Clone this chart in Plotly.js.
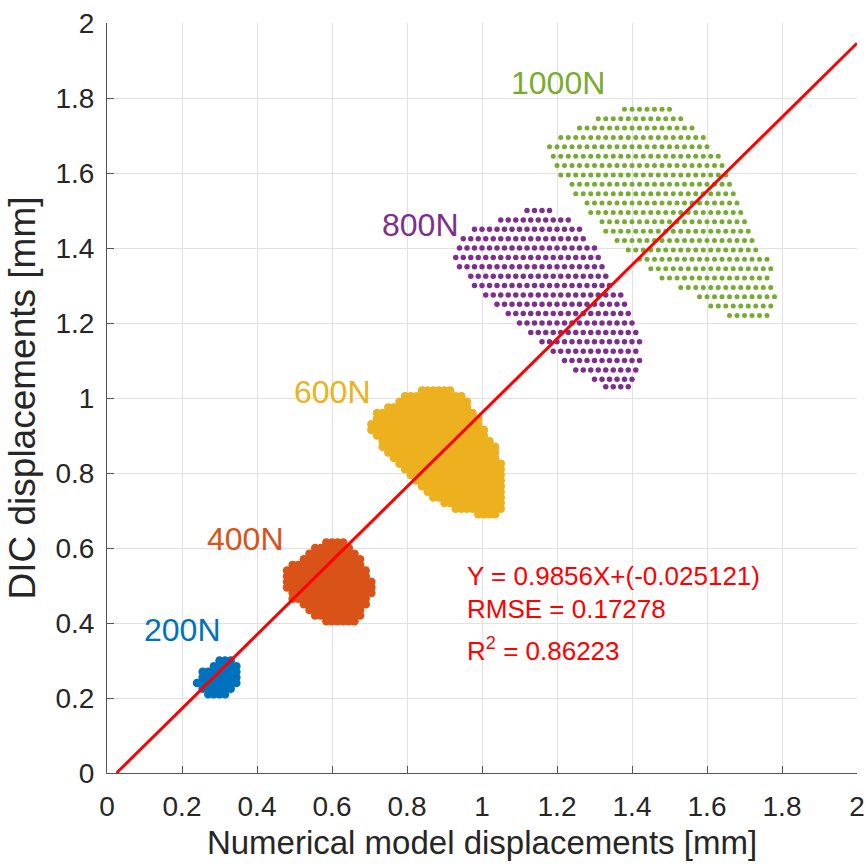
<!DOCTYPE html>
<html>
<head>
<meta charset="utf-8">
<script src="https://cdn.plot.ly/plotly-3.0.1.min.js"></script>
<style>
  html, body { margin: 0; padding: 0; background: #ffffff; }
  #chart { width: 866px; height: 867px; }
</style>
</head>
<body>
<div id="chart"></div>
<script>
// ---------------- data ----------------
// Each cloud: row levels (DIC displacement, mm) and, per row, the
// numerical-model displacements (mm) of the points on that row.

const blueRowY = [0.300, 0.285, 0.270, 0.255, 0.240, 0.225, 0.210];
const blueRowX = [
  [0.300, 0.315, 0.330],
  [0.285, 0.300, 0.315, 0.330, 0.345],
  [0.255, 0.270, 0.285, 0.300, 0.315, 0.330, 0.345],
  [0.255, 0.270, 0.285, 0.300, 0.315, 0.330, 0.345],
  [0.240, 0.255, 0.270, 0.285, 0.300, 0.315, 0.330, 0.345],
  [0.255, 0.270, 0.285, 0.300, 0.315, 0.330],
  [0.270, 0.285, 0.300, 0.315]
];

const orangeRowY = [0.615, 0.600, 0.585, 0.570, 0.555, 0.540, 0.525, 0.510, 0.495, 0.480, 0.465, 0.450, 0.435, 0.420, 0.405];
const orangeRowX = [
  [0.585, 0.600, 0.615, 0.630],
  [0.555, 0.570, 0.585, 0.600, 0.615, 0.630, 0.645],
  [0.540, 0.555, 0.570, 0.585, 0.600, 0.615, 0.630, 0.645, 0.660],
  [0.525, 0.540, 0.555, 0.570, 0.585, 0.600, 0.615, 0.630, 0.645, 0.660, 0.675],
  [0.495, 0.510, 0.525, 0.540, 0.555, 0.570, 0.585, 0.600, 0.615, 0.630, 0.645, 0.660, 0.675],
  [0.480, 0.495, 0.510, 0.525, 0.540, 0.555, 0.570, 0.585, 0.600, 0.615, 0.630, 0.645, 0.660, 0.675, 0.690],
  [0.480, 0.495, 0.510, 0.525, 0.540, 0.555, 0.570, 0.585, 0.600, 0.615, 0.630, 0.645, 0.660, 0.675, 0.690],
  [0.480, 0.495, 0.510, 0.525, 0.540, 0.555, 0.570, 0.585, 0.600, 0.615, 0.630, 0.645, 0.660, 0.675, 0.690, 0.705],
  [0.480, 0.495, 0.510, 0.525, 0.540, 0.555, 0.570, 0.585, 0.600, 0.615, 0.630, 0.645, 0.660, 0.675, 0.690, 0.705],
  [0.495, 0.510, 0.525, 0.540, 0.555, 0.570, 0.585, 0.600, 0.615, 0.630, 0.645, 0.660, 0.675, 0.690, 0.705],
  [0.495, 0.510, 0.525, 0.540, 0.555, 0.570, 0.585, 0.600, 0.615, 0.630, 0.645, 0.660, 0.675, 0.690],
  [0.525, 0.540, 0.555, 0.570, 0.585, 0.600, 0.615, 0.630, 0.645, 0.660, 0.675, 0.690],
  [0.540, 0.555, 0.570, 0.585, 0.600, 0.615, 0.630, 0.645, 0.660, 0.675],
  [0.555, 0.570, 0.585, 0.600, 0.615, 0.630, 0.645, 0.660, 0.675],
  [0.585, 0.600, 0.615, 0.630, 0.645, 0.660]
];

const yellowRowY = [1.020, 1.005, 0.990, 0.975, 0.960, 0.945, 0.930, 0.915, 0.900, 0.885, 0.870, 0.855, 0.840, 0.825, 0.810, 0.795, 0.780, 0.765, 0.750, 0.735, 0.720, 0.705, 0.690];
const yellowRowX = [
  [0.840, 0.855, 0.870, 0.885, 0.900, 0.915],
  [0.795, 0.810, 0.825, 0.840, 0.855, 0.870, 0.885, 0.900, 0.915, 0.930, 0.945],
  [0.780, 0.795, 0.810, 0.825, 0.840, 0.855, 0.870, 0.885, 0.900, 0.915, 0.930, 0.945, 0.960],
  [0.750, 0.765, 0.780, 0.795, 0.810, 0.825, 0.840, 0.855, 0.870, 0.885, 0.900, 0.915, 0.930, 0.945, 0.960],
  [0.720, 0.735, 0.750, 0.765, 0.780, 0.795, 0.810, 0.825, 0.840, 0.855, 0.870, 0.885, 0.900, 0.915, 0.930, 0.945, 0.960, 0.975],
  [0.720, 0.735, 0.750, 0.765, 0.780, 0.795, 0.810, 0.825, 0.840, 0.855, 0.870, 0.885, 0.900, 0.915, 0.930, 0.945, 0.960, 0.975, 0.990],
  [0.705, 0.720, 0.735, 0.750, 0.765, 0.780, 0.795, 0.810, 0.825, 0.840, 0.855, 0.870, 0.885, 0.900, 0.915, 0.930, 0.945, 0.960, 0.975, 0.990],
  [0.705, 0.720, 0.735, 0.750, 0.765, 0.780, 0.795, 0.810, 0.825, 0.840, 0.855, 0.870, 0.885, 0.900, 0.915, 0.930, 0.945, 0.960, 0.975, 0.990, 1.005],
  [0.720, 0.735, 0.750, 0.765, 0.780, 0.795, 0.810, 0.825, 0.840, 0.855, 0.870, 0.885, 0.900, 0.915, 0.930, 0.945, 0.960, 0.975, 0.990, 1.005],
  [0.735, 0.750, 0.765, 0.780, 0.795, 0.810, 0.825, 0.840, 0.855, 0.870, 0.885, 0.900, 0.915, 0.930, 0.945, 0.960, 0.975, 0.990, 1.005, 1.020],
  [0.735, 0.750, 0.765, 0.780, 0.795, 0.810, 0.825, 0.840, 0.855, 0.870, 0.885, 0.900, 0.915, 0.930, 0.945, 0.960, 0.975, 0.990, 1.005, 1.020, 1.035],
  [0.750, 0.765, 0.780, 0.795, 0.810, 0.825, 0.840, 0.855, 0.870, 0.885, 0.900, 0.915, 0.930, 0.945, 0.960, 0.975, 0.990, 1.005, 1.020, 1.035],
  [0.765, 0.780, 0.795, 0.810, 0.825, 0.840, 0.855, 0.870, 0.885, 0.900, 0.915, 0.930, 0.945, 0.960, 0.975, 0.990, 1.005, 1.020, 1.035],
  [0.780, 0.795, 0.810, 0.825, 0.840, 0.855, 0.870, 0.885, 0.900, 0.915, 0.930, 0.945, 0.960, 0.975, 0.990, 1.005, 1.020, 1.035, 1.050],
  [0.795, 0.810, 0.825, 0.840, 0.855, 0.870, 0.885, 0.900, 0.915, 0.930, 0.945, 0.960, 0.975, 0.990, 1.005, 1.020, 1.035, 1.050],
  [0.810, 0.825, 0.840, 0.855, 0.870, 0.885, 0.900, 0.915, 0.930, 0.945, 0.960, 0.975, 0.990, 1.005, 1.020, 1.035, 1.050],
  [0.825, 0.840, 0.855, 0.870, 0.885, 0.900, 0.915, 0.930, 0.945, 0.960, 0.975, 0.990, 1.005, 1.020, 1.035, 1.050],
  [0.840, 0.855, 0.870, 0.885, 0.900, 0.915, 0.930, 0.945, 0.960, 0.975, 0.990, 1.005, 1.020, 1.035, 1.050],
  [0.855, 0.870, 0.885, 0.900, 0.915, 0.930, 0.945, 0.960, 0.975, 0.990, 1.005, 1.020, 1.035, 1.050],
  [0.870, 0.885, 0.900, 0.915, 0.930, 0.945, 0.960, 0.975, 0.990, 1.005, 1.020, 1.035, 1.050],
  [0.900, 0.915, 0.930, 0.945, 0.960, 0.975, 0.990, 1.005, 1.020, 1.035, 1.050],
  [0.930, 0.945, 0.960, 0.975, 0.990, 1.005, 1.020, 1.035, 1.050],
  [0.990, 1.005, 1.020, 1.035]
];

const purpleRowY = [1.50, 1.475, 1.45, 1.425, 1.40, 1.375, 1.35, 1.325, 1.30, 1.275, 1.25, 1.225, 1.20, 1.175, 1.15, 1.125, 1.10, 1.075, 1.05, 1.03];
const purpleRowX = [
  [1.12, 1.14, 1.16, 1.18],
  [1.05, 1.07, 1.09, 1.11, 1.13, 1.15, 1.17, 1.19, 1.21, 1.23],
  [0.98, 1.00, 1.02, 1.04, 1.06, 1.08, 1.10, 1.12, 1.14, 1.16, 1.18, 1.20, 1.22, 1.24, 1.26],
  [0.95, 0.97, 0.99, 1.01, 1.03, 1.05, 1.07, 1.09, 1.11, 1.13, 1.15, 1.17, 1.19, 1.21, 1.23, 1.25, 1.27],
  [0.94, 0.96, 0.98, 1.00, 1.02, 1.04, 1.06, 1.08, 1.10, 1.12, 1.14, 1.16, 1.18, 1.20, 1.22, 1.24, 1.26, 1.28, 1.30],
  [0.93, 0.95, 0.97, 0.99, 1.01, 1.03, 1.05, 1.07, 1.09, 1.11, 1.13, 1.15, 1.17, 1.19, 1.21, 1.23, 1.25, 1.27, 1.29, 1.31],
  [0.94, 0.96, 0.98, 1.00, 1.02, 1.04, 1.06, 1.08, 1.10, 1.12, 1.14, 1.16, 1.18, 1.20, 1.22, 1.24, 1.26, 1.28, 1.30, 1.32],
  [0.97, 0.99, 1.01, 1.03, 1.05, 1.07, 1.09, 1.11, 1.13, 1.15, 1.17, 1.19, 1.21, 1.23, 1.25, 1.27, 1.29, 1.31, 1.33],
  [0.98, 1.00, 1.02, 1.04, 1.06, 1.08, 1.10, 1.12, 1.14, 1.16, 1.18, 1.20, 1.22, 1.24, 1.26, 1.28, 1.30, 1.32, 1.34],
  [1.01, 1.03, 1.05, 1.07, 1.09, 1.11, 1.13, 1.15, 1.17, 1.19, 1.21, 1.23, 1.25, 1.27, 1.29, 1.31, 1.33, 1.35, 1.37],
  [1.04, 1.06, 1.08, 1.10, 1.12, 1.14, 1.16, 1.18, 1.20, 1.22, 1.24, 1.26, 1.28, 1.30, 1.32, 1.34, 1.36, 1.38],
  [1.07, 1.09, 1.11, 1.13, 1.15, 1.17, 1.19, 1.21, 1.23, 1.25, 1.27, 1.29, 1.31, 1.33, 1.35, 1.37, 1.39],
  [1.10, 1.12, 1.14, 1.16, 1.18, 1.20, 1.22, 1.24, 1.26, 1.28, 1.30, 1.32, 1.34, 1.36, 1.38, 1.40],
  [1.13, 1.15, 1.17, 1.19, 1.21, 1.23, 1.25, 1.27, 1.29, 1.31, 1.33, 1.35, 1.37, 1.39, 1.41],
  [1.16, 1.18, 1.20, 1.22, 1.24, 1.26, 1.28, 1.30, 1.32, 1.34, 1.36, 1.38, 1.40, 1.42],
  [1.19, 1.21, 1.23, 1.25, 1.27, 1.29, 1.31, 1.33, 1.35, 1.37, 1.39, 1.41],
  [1.22, 1.24, 1.26, 1.28, 1.30, 1.32, 1.34, 1.36, 1.38, 1.40, 1.42],
  [1.25, 1.27, 1.29, 1.31, 1.33, 1.35, 1.37, 1.39, 1.41],
  [1.30, 1.32, 1.34, 1.36, 1.38, 1.40],
  [1.33, 1.35, 1.37, 1.39]
];

const greenRowY = [1.77, 1.745, 1.72, 1.695, 1.67, 1.645, 1.62, 1.595, 1.57, 1.545, 1.52, 1.495, 1.47, 1.445, 1.42, 1.395, 1.37, 1.345, 1.32, 1.295, 1.27, 1.245, 1.22];
const greenRowX = [
  [1.38, 1.40, 1.42, 1.44, 1.46, 1.48, 1.50],
  [1.31, 1.33, 1.35, 1.37, 1.39, 1.41, 1.43, 1.45, 1.47, 1.49, 1.51, 1.53],
  [1.26, 1.28, 1.30, 1.32, 1.34, 1.36, 1.38, 1.40, 1.42, 1.44, 1.46, 1.48, 1.50, 1.52, 1.54, 1.56],
  [1.21, 1.23, 1.25, 1.27, 1.29, 1.31, 1.33, 1.35, 1.37, 1.39, 1.41, 1.43, 1.45, 1.47, 1.49, 1.51, 1.53, 1.55, 1.57, 1.59],
  [1.18, 1.20, 1.22, 1.24, 1.26, 1.28, 1.30, 1.32, 1.34, 1.36, 1.38, 1.40, 1.42, 1.44, 1.46, 1.48, 1.50, 1.52, 1.54, 1.56, 1.58, 1.60],
  [1.19, 1.21, 1.23, 1.25, 1.27, 1.29, 1.31, 1.33, 1.35, 1.37, 1.39, 1.41, 1.43, 1.45, 1.47, 1.49, 1.51, 1.53, 1.55, 1.57, 1.59, 1.61, 1.63],
  [1.20, 1.22, 1.24, 1.26, 1.28, 1.30, 1.32, 1.34, 1.36, 1.38, 1.40, 1.42, 1.44, 1.46, 1.48, 1.50, 1.52, 1.54, 1.56, 1.58, 1.60, 1.62, 1.64],
  [1.21, 1.23, 1.25, 1.27, 1.29, 1.31, 1.33, 1.35, 1.37, 1.39, 1.41, 1.43, 1.45, 1.47, 1.49, 1.51, 1.53, 1.55, 1.57, 1.59, 1.61, 1.63, 1.65],
  [1.24, 1.26, 1.28, 1.30, 1.32, 1.34, 1.36, 1.38, 1.40, 1.42, 1.44, 1.46, 1.48, 1.50, 1.52, 1.54, 1.56, 1.58, 1.60, 1.62, 1.64, 1.66],
  [1.25, 1.27, 1.29, 1.31, 1.33, 1.35, 1.37, 1.39, 1.41, 1.43, 1.45, 1.47, 1.49, 1.51, 1.53, 1.55, 1.57, 1.59, 1.61, 1.63, 1.65, 1.67],
  [1.28, 1.30, 1.32, 1.34, 1.36, 1.38, 1.40, 1.42, 1.44, 1.46, 1.48, 1.50, 1.52, 1.54, 1.56, 1.58, 1.60, 1.62, 1.64, 1.66, 1.68],
  [1.29, 1.31, 1.33, 1.35, 1.37, 1.39, 1.41, 1.43, 1.45, 1.47, 1.49, 1.51, 1.53, 1.55, 1.57, 1.59, 1.61, 1.63, 1.65, 1.67, 1.69],
  [1.32, 1.34, 1.36, 1.38, 1.40, 1.42, 1.44, 1.46, 1.48, 1.50, 1.52, 1.54, 1.56, 1.58, 1.60, 1.62, 1.64, 1.66, 1.68, 1.70],
  [1.33, 1.35, 1.37, 1.39, 1.41, 1.43, 1.45, 1.47, 1.49, 1.51, 1.53, 1.55, 1.57, 1.59, 1.61, 1.63, 1.65, 1.67, 1.69, 1.71],
  [1.36, 1.38, 1.40, 1.42, 1.44, 1.46, 1.48, 1.50, 1.52, 1.54, 1.56, 1.58, 1.60, 1.62, 1.64, 1.66, 1.68, 1.70, 1.72],
  [1.39, 1.41, 1.43, 1.45, 1.47, 1.49, 1.51, 1.53, 1.55, 1.57, 1.59, 1.61, 1.63, 1.65, 1.67, 1.69, 1.71, 1.73],
  [1.42, 1.44, 1.46, 1.48, 1.50, 1.52, 1.54, 1.56, 1.58, 1.60, 1.62, 1.64, 1.66, 1.68, 1.70, 1.72, 1.74, 1.76],
  [1.45, 1.47, 1.49, 1.51, 1.53, 1.55, 1.57, 1.59, 1.61, 1.63, 1.65, 1.67, 1.69, 1.71, 1.73, 1.75, 1.77],
  [1.48, 1.50, 1.52, 1.54, 1.56, 1.58, 1.60, 1.62, 1.64, 1.66, 1.68, 1.70, 1.72, 1.74, 1.76],
  [1.53, 1.55, 1.57, 1.59, 1.61, 1.63, 1.65, 1.67, 1.69, 1.71, 1.73, 1.75, 1.77],
  [1.58, 1.60, 1.62, 1.64, 1.66, 1.68, 1.70, 1.72, 1.74, 1.76, 1.78],
  [1.61, 1.63, 1.65, 1.67, 1.69, 1.71, 1.73, 1.75, 1.77],
  [1.66, 1.68, 1.70, 1.72, 1.74, 1.76]
];

// load-case labels and their positions
const loadLabels = ['200N', '400N', '600N', '800N', '1000N'];
const loadLabelX = [0.201, 0.368, 0.601, 0.836, 1.203];
const loadLabelY = [0.381, 0.624, 1.017, 1.461, 1.840];

// regression results shown on the chart
const fitSlope = 0.9856;
const fitIntercept = -0.025121;
const fitX = [0.02549, 2.0];
const statLines = ['Y = 0.9856X+(-0.025121)', 'RMSE = 0.17278', 'R<sup>2</sup> = 0.86223'];

// ticks
const tickVals = [0, 0.2, 0.4, 0.6, 0.8, 1, 1.2, 1.4, 1.6, 1.8, 2];
const tickText = ['0', '0.2', '0.4', '0.6', '0.8', '1', '1.2', '1.4', '1.6', '1.8', '2'];

// ---------------- styling ----------------
const colors = ['#0072BD', '#D95319', '#EDB120', '#7E2F8E', '#77AC30'];
const markerSizes = [8.5, 8.5, 8.5, 5.5, 5];
const FONT = 'Liberation Sans, Arial, Helvetica, sans-serif';

function flatten(rowY, rowX) {
  const xs = [], ys = [];
  rowX.forEach((row, i) => row.forEach(x => { xs.push(x); ys.push(rowY[i]); }));
  return {x: xs, y: ys};
}

const clouds = [
  flatten(blueRowY, blueRowX),
  flatten(orangeRowY, orangeRowX),
  flatten(yellowRowY, yellowRowX),
  flatten(purpleRowY, purpleRowX),
  flatten(greenRowY, greenRowX)
];

const traces = clouds.map((c, i) => ({
  type: 'scatter', mode: 'markers', x: c.x, y: c.y, name: loadLabels[i],
  marker: {color: colors[i], size: markerSizes[i], line: {width: 0}},
  hoverinfo: 'x+y', showlegend: false
}));

traces.push({
  type: 'scatter', mode: 'lines',
  x: fitX, y: fitX.map(x => fitSlope * x + fitIntercept),
  line: {color: '#FF0000', width: 3}, showlegend: false, hoverinfo: 'skip'
});

const annotations = loadLabels.map((t, i) => ({
  x: loadLabelX[i], y: loadLabelY[i], xref: 'x', yref: 'y', text: t,
  showarrow: false, xanchor: 'center', yanchor: 'middle',
  font: {family: FONT, size: 32, color: colors[i]}
}));

const statY = [0.525, 0.438, 0.330];
statLines.forEach((t, i) => annotations.push({
  x: 0.955, y: statY[i], xref: 'x', yref: 'y', text: t,
  showarrow: false, xanchor: 'left', yanchor: 'middle',
  font: {family: FONT, size: 26, color: '#FF0000'}
}));

const axisCommon = {
  range: [0, 2], tickmode: 'array', tickvals: tickVals, ticktext: tickText,
  showgrid: true, gridcolor: '#e2e2e2', gridwidth: 1,
  showline: true, linecolor: '#555555', linewidth: 1,
  ticks: 'inside', ticklen: 7, tickcolor: '#555555', tickwidth: 1,
  zeroline: false, mirror: false, automargin: false,
  tickfont: {family: FONT, size: 28, color: '#262626'}
};

const layout = {
  width: 866, height: 867,
  margin: {l: 107, r: 9, t: 23, b: 94, pad: 0},
  paper_bgcolor: '#ffffff', plot_bgcolor: '#ffffff',
  showlegend: false,
  xaxis: Object.assign({}, axisCommon, {
    title: {text: 'Numerical model displacements [mm]', standoff: 10,
            font: {family: FONT, size: 33, color: '#262626'}},
    ticklabelstandoff: 8
  }),
  yaxis: Object.assign({}, axisCommon, {
    title: {text: 'DIC displacements [mm]', standoff: 8,
            font: {family: FONT, size: 37, color: '#262626'}},
    ticklabelstandoff: 6
  }),
  annotations: annotations
};

Plotly.newPlot('chart', traces, layout, {displayModeBar: false, staticPlot: true});
</script>
</body>
</html>
